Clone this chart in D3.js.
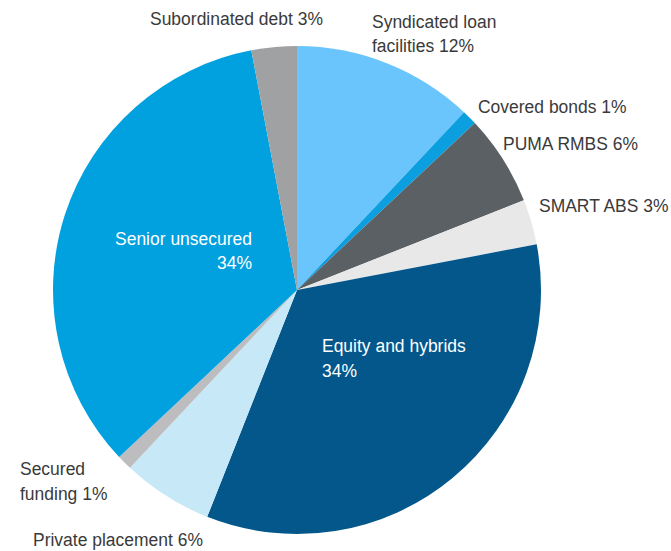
<!DOCTYPE html>
<html>
<head>
<meta charset="utf-8">
<script src="https://cdn.jsdelivr.net/npm/d3@7"></script>
<style>
  html, body { margin: 0; padding: 0; background: #fff; }
  svg { display: block; }
  text { font-family: "Liberation Sans", Arial, sans-serif; font-size: 19px; }
</style>
</head>
<body>
<svg id="chart" width="671" height="551"></svg>
<script>
// Funding composition, clockwise from 12 o'clock
const categories = [
  "Syndicated loan facilities", "Covered bonds", "PUMA RMBS", "SMART ABS",
  "Equity and hybrids", "Private placement", "Secured funding",
  "Senior unsecured", "Subordinated debt"
];
const shares = [12, 1, 6, 3, 34, 6, 1, 34, 3];
const colors = [
  "#69c5fc", "#0b9fe0", "#5b6064", "#e8e8e8",
  "#03578b", "#c7e8f7", "#bdbdbf", "#01a1df", "#a0a1a3"
];

// Label lines for each slice (text, x, y, anchor)
const labelLines = [
  [["Syndicated loan", 372, 28, "start"], ["facilities 12%", 372, 52, "start"]],
  [["Covered bonds 1%", 478, 113, "start"]],
  [["PUMA RMBS 6%", 503, 150, "start"]],
  [["SMART ABS 3%", 539, 212, "start"]],
  [["Equity and hybrids", 322, 352, "start"], ["34%", 322, 377, "start"]],
  [["Private placement 6%", 33, 546, "start"]],
  [["Secured", 20, 475, "start"], ["funding 1%", 20, 500, "start"]],
  [["Senior unsecured", 252, 245, "end"], ["34%", 252, 269, "end"]],
  [["Subordinated debt 3%", 150, 25, "start"]]
];
const insideLabel = [false, false, false, false, true, false, false, true, false];

const svg = d3.select("#chart");
const cx = 297, cy = 290, radius = 244;

const data = categories.map((c, i) => ({ name: c, value: shares[i], i }));

const pie = d3.pie().value(d => d.value).sort(null);
const arc = d3.arc().innerRadius(0).outerRadius(radius);

const g = svg.append("g").attr("transform", `translate(${cx},${cy})`);
g.selectAll("path")
  .data(pie(data))
  .join("path")
  .attr("d", arc)
  .attr("fill", d => colors[d.data.i]);

// Slightly condensed label type
const labels = svg.append("g");
data.forEach((d, i) => {
  labelLines[i].forEach(([t, x, y, anchor]) => {
    labels.append("text")
      .attr("transform", `translate(${x},${y}) scale(0.92,1)`)
      .attr("text-anchor", anchor)
      .attr("fill", insideLabel[i] ? "#ffffff" : "#3a3a3a")
      .text(t);
  });
});
</script>
</body>
</html>
